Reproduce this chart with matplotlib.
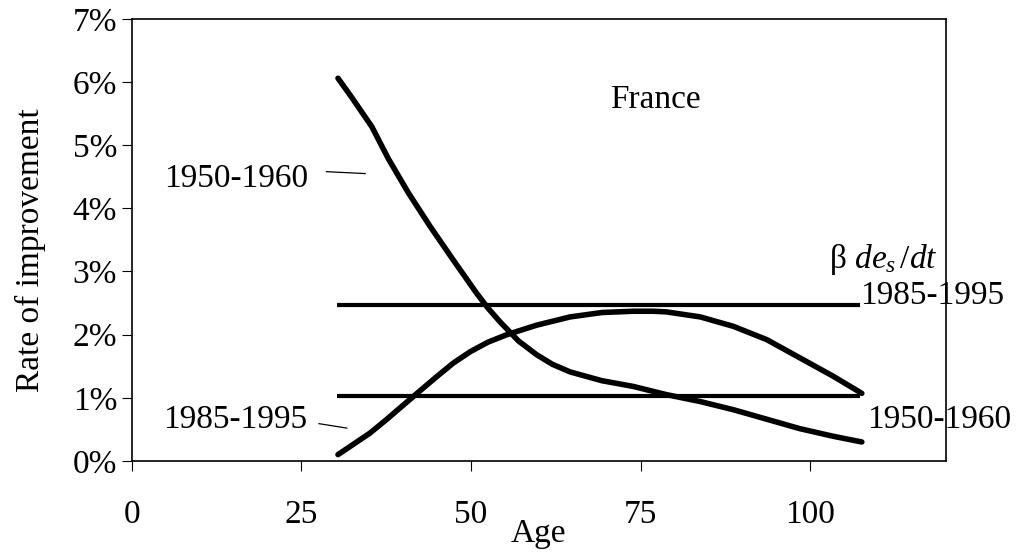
import matplotlib
matplotlib.use("Agg")
from matplotlib import pyplot as plt
from matplotlib.ticker import PercentFormatter

# values (age, rate in %)
AGE_1950 = [30.4, 32.4, 35.4, 37.8, 40.8, 44.0, 47.4, 50.8, 52.5, 54.3, 57.0, 59.7, 62.0,
            64.6, 69.3, 73.9, 76.9, 78.8, 83.8, 88.7, 93.6, 98.5, 103.4, 107.6]
RATE_1950 = [6.06, 5.76, 5.29, 4.79, 4.24, 3.71, 3.18, 2.66, 2.42, 2.20, 1.90, 1.68, 1.53,
             1.41, 1.27, 1.18, 1.10, 1.05, 0.94, 0.81, 0.66, 0.51, 0.39, 0.30]

AGE_1985 = [30.4, 35.1, 37.6, 41.5, 44.9, 47.4, 49.9, 52.5, 55.3, 59.7, 64.6, 69.3, 73.9,
            76.9, 78.8, 83.8, 88.7, 93.6, 98.5, 103.4, 107.6]
RATE_1985 = [0.10, 0.44, 0.66, 1.02, 1.33, 1.55, 1.73, 1.88, 2.00, 2.15, 2.28, 2.35, 2.37,
             2.37, 2.36, 2.28, 2.13, 1.92, 1.63, 1.34, 1.07]

# beta de_s/dt flat levels
FLAT_AGES = [30.3, 107.3]
FLAT_1985 = 2.47
FLAT_1950 = 1.03

X_TICKS = [0, 25, 50, 75, 100]
Y_TICKS = [0, 1, 2, 3, 4, 5, 6, 7]

FONT = "Liberation Serif"
FS = 24


def main():
  plt.rcParams["font.family"] = [FONT, "DejaVu Serif"]
  plt.rcParams["mathtext.fontset"] = "custom"
  plt.rcParams["mathtext.rm"] = FONT
  plt.rcParams["mathtext.it"] = FONT + ":italic"

  fig = plt.figure(figsize=(10.21, 5.54), dpi=100)
  ax = fig.add_axes([0.129, 0.168, 0.7975, 0.798])

  lw_curve = 4.0
  ax.plot(AGE_1950, [v / 100 for v in RATE_1950], color="black", lw=lw_curve,
          solid_capstyle="round", solid_joinstyle="round")
  ax.plot(AGE_1985, [v / 100 for v in RATE_1985], color="black", lw=lw_curve,
          solid_capstyle="round", solid_joinstyle="round")
  ax.plot(FLAT_AGES, [FLAT_1985 / 100] * 2, color="black", lw=3.0, solid_capstyle="butt")
  ax.plot(FLAT_AGES, [FLAT_1950 / 100] * 2, color="black", lw=3.0, solid_capstyle="butt")

  ax.set_xlim(0, 120)
  ax.set_ylim(0, 0.07)
  ax.set_xticks(X_TICKS)
  ax.set_yticks([t / 100 for t in Y_TICKS])
  ax.yaxis.set_major_formatter(PercentFormatter(1.0, decimals=0))
  ax.tick_params(axis="both", labelsize=FS, length=7.5, width=0.8, direction="out")
  ax.tick_params(axis="x", pad=20)
  ax.tick_params(axis="y", pad=3)
  for s in ax.spines.values():
    s.set_linewidth(1.2)

  ax.text(0.5, -0.131, "Age", transform=ax.transAxes, ha="center", va="top", fontsize=FS)
  ax.text(-0.124, 0.477, "Rate of improvement", transform=ax.transAxes, rotation=90,
          ha="center", va="center", fontsize=FS)

  # annotations
  ax.text(70.5, 0.05585, "France", fontsize=FS, ha="left", va="baseline")
  ax.text(26.0, 0.0433, "1950-1960", fontsize=FS, ha="right", va="baseline")
  ax.plot([28.7, 34.4], [0.0458, 0.0455], color="black", lw=0.9)
  ax.text(25.8, 0.0052, "1985-1995", fontsize=FS, ha="right", va="baseline")
  ax.plot([27.6, 31.7], [0.0059, 0.0052], color="black", lw=0.9)
  ax.text(102.7, 0.0306, r"β $de_{s}\,/dt$", fontsize=FS, ha="left", va="baseline", clip_on=False)
  ax.text(107.3, 0.0249, "1985-1995", fontsize=FS, ha="left", va="baseline", clip_on=False)
  ax.text(108.4, 0.0052, "1950-1960", fontsize=FS, ha="left", va="baseline", clip_on=False)

  fig.savefig("out.png", dpi=100)


main()
